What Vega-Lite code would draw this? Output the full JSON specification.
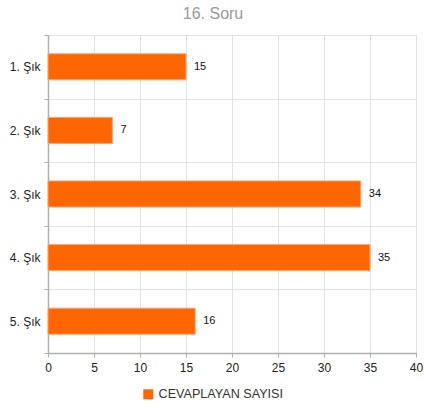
{
  "$schema": "https://vega.github.io/schema/vega-lite/v6.json",
  "autosize": "none",
  "width": 368,
  "height": 318,
  "padding": {"left": 48, "top": 35, "right": 9, "bottom": 54},
  "background": "white",
  "title": {
    "text": "16. Soru",
    "fontSize": 16,
    "font": "Liberation Sans",
    "fontWeight": "normal",
    "color": "#9a9a9a",
    "anchor": "middle",
    "dx": -19,
    "offset": 7
  },
  "data": {
    "values": [
      {"secenek": "1. Şık", "sayi": 15, "seri": "CEVAPLAYAN SAYISI"},
      {"secenek": "2. Şık", "sayi": 7, "seri": "CEVAPLAYAN SAYISI"},
      {"secenek": "3. Şık", "sayi": 34, "seri": "CEVAPLAYAN SAYISI"},
      {"secenek": "4. Şık", "sayi": 35, "seri": "CEVAPLAYAN SAYISI"},
      {"secenek": "5. Şık", "sayi": 16, "seri": "CEVAPLAYAN SAYISI"}
    ]
  },
  "encoding": {
    "y": {
      "field": "secenek",
      "type": "nominal",
      "sort": null,
      "scale": {"paddingInner": 0, "paddingOuter": 0},
      "axis": {
        "title": null,
        "tickBand": "extent",
        "grid": true,
        "gridColor": "#e3e3e3",
        "domainColor": "#b0b0b0",
        "domainWidth": 1.5,
        "tickColor": "#b0b0b0",
        "tickSize": 4,
        "labelPadding": 4,
        "labelFont": "Liberation Sans",
        "labelFontSize": 12,
        "labelColor": "#222222"
      }
    },
    "x": {
      "field": "sayi",
      "type": "quantitative",
      "scale": {"domain": [0, 40], "nice": false},
      "axis": {
        "title": null,
        "values": [0, 5, 10, 15, 20, 25, 30, 35, 40],
        "grid": true,
        "gridColor": "#e3e3e3",
        "domainColor": "#b0b0b0",
        "domainWidth": 1.5,
        "tickColor": "#b0b0b0",
        "tickSize": 4,
        "labelPadding": 5,
        "labelFont": "Liberation Sans",
        "labelFontSize": 12,
        "labelColor": "#222222",
        "labelFlush": false
      }
    }
  },
  "layer": [
    {
      "mark": {"type": "bar", "height": {"band": 0.41}, "stroke": "#f7a878", "strokeWidth": 1},
      "encoding": {
        "color": {
          "field": "seri",
          "type": "nominal",
          "scale": {"range": ["#ff6600"]},
          "legend": {
            "title": null,
            "orient": "none",
            "legendX": 94,
            "legendY": 353,
            "direction": "horizontal",
            "symbolType": "square",
            "symbolSize": 100,
            "symbolStrokeWidth": 0,
            "labelFont": "Liberation Sans",
            "labelFontSize": 12.6,
            "labelColor": "#333333"
          }
        }
      }
    },
    {
      "mark": {"type": "text", "align": "left", "dx": 8, "font": "Liberation Sans", "fontSize": 11, "color": "#111111"},
      "encoding": {"text": {"field": "sayi", "type": "quantitative"}}
    }
  ],
  "config": {"view": {"stroke": null}}
}
